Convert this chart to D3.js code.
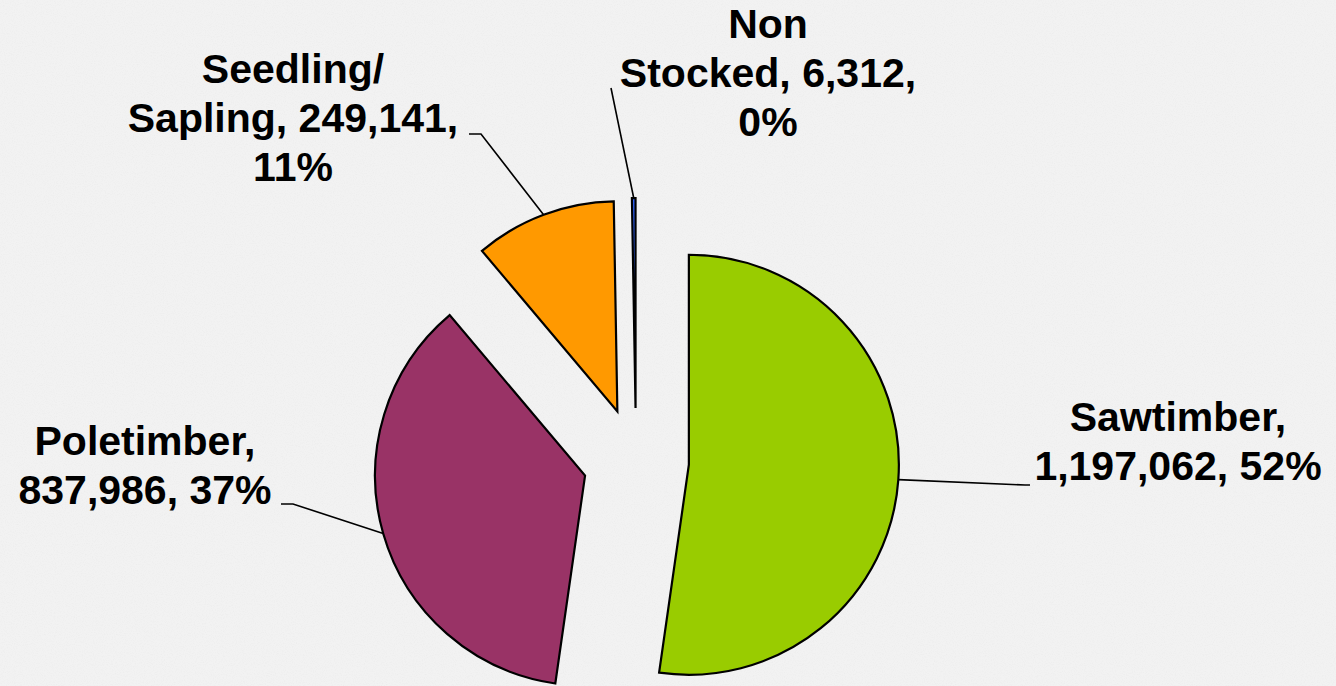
<!DOCTYPE html>
<html>
<head>
<meta charset="utf-8">
<script src="https://cdn.jsdelivr.net/npm/d3@7"></script>
<style>
  html, body { margin: 0; padding: 0; background: #f2f2f2; }
  svg { display: block; }
</style>
</head>
<body>
<div id="chart-container"></div>
<script>
// stand size classes, acres
var categories = ["Sawtimber", "Poletimber", "Seedling/Sapling", "Non Stocked"];
var acres = [1197062, 837986, 249141, 6312];
var colors = ["#99CC00", "#993366", "#FF9900", "#3366FF"];

// label text, {v} = value, {p} = percent (line breaks as in the original)
var labelTemplates = [
  ["Sawtimber,", "{v}, {p}"],
  ["Poletimber,", "{v}, {p}"],
  ["Seedling/", "Sapling, {v},", "{p}"],
  ["Non", "Stocked, {v},", "{p}"]
];

var chartSize = { width: 1336, height: 686 };
var pieCenter = { x: 636, y: 461 };
var radius = 210;
var explode = 53;
var fontSize = 41;
var lineHeight = 49;

// label placement: centre x, first baseline, and where the leader line leaves the label
var labelLayout = [
  { x: 1178, y: 431, elbow: [[1030, 485], [1025, 485]] },
  { x: 145, y: 455, elbow: [[281, 504], [293, 504]] },
  { x: 293, y: 83, elbow: [[469, 134], [481, 134]] },
  { x: 768, y: 38, elbow: [[611, 88]] }
];

var data = categories.map(function (c, i) {
  return { name: c, value: acres[i], color: colors[i], template: labelTemplates[i], layout: labelLayout[i] };
});
var total = d3.sum(acres);
var fmtValue = d3.format(",");
var fmtPct = d3.format(".0%");

var svg = d3.select("#chart-container")
  .append("svg")
  .attr("width", chartSize.width)
  .attr("height", chartSize.height);

// faint paper texture
var defs = svg.append("defs");
var noise = defs.append("filter").attr("id", "noise").attr("x", 0).attr("y", 0).attr("width", "100%").attr("height", "100%");
noise.append("feTurbulence").attr("type", "fractalNoise").attr("baseFrequency", 0.9).attr("numOctaves", 2).attr("seed", 3);
noise.append("feColorMatrix").attr("values", "0 0 0 0 0.5  0 0 0 0 0.5  0 0 0 0 0.5  0 0 0 -1.6 0.9");

svg.append("rect").attr("width", chartSize.width).attr("height", chartSize.height).attr("fill", "#f2f2f2");
svg.append("rect").attr("width", chartSize.width).attr("height", chartSize.height)
  .attr("filter", "url(#noise)").attr("opacity", 0.12);

var pie = d3.pie()
  .value(function (d) { return d.value; })
  .sort(null)
  .startAngle(0)
  .endAngle(2 * Math.PI);

var arc = d3.arc()
  .innerRadius(0)
  .outerRadius(radius);

var arcs = pie(data);

arcs.forEach(function (d) {
  var mid = (d.startAngle + d.endAngle) / 2;
  d.mid = mid;
  d.dx = explode * Math.sin(mid);
  d.dy = -explode * Math.cos(mid);
});

var g = svg.append("g")
  .attr("transform", "translate(" + pieCenter.x + "," + pieCenter.y + ")");

g.selectAll("path.slice")
  .data(arcs)
  .enter()
  .append("path")
  .attr("class", "slice")
  .attr("transform", function (d) { return "translate(" + d.dx + "," + d.dy + ")"; })
  .attr("d", arc)
  .attr("fill", function (d) { return d.data.color; })
  .attr("stroke", "#000")
  .attr("stroke-width", 2.2)
  .attr("stroke-linejoin", "miter");

// leader lines, from the label to the outer arc midpoint
var leaders = svg.append("g");
arcs.forEach(function (d) {
  var px = pieCenter.x + d.dx + radius * Math.sin(d.mid);
  var py = pieCenter.y + d.dy - radius * Math.cos(d.mid);
  var pts = d.data.layout.elbow.slice();
  pts.push([px, py]);
  leaders.append("path")
    .attr("d", d3.line()(pts))
    .attr("fill", "none")
    .attr("stroke", "#000")
    .attr("stroke-width", 1.6);
});

var labels = svg.append("g")
  .attr("font-family", "'Liberation Sans', Arial, sans-serif")
  .attr("font-weight", "bold")
  .attr("font-size", fontSize)
  .attr("text-anchor", "middle")
  .attr("fill", "#000");

arcs.forEach(function (d) {
  var lines = d.data.template.map(function (t) {
    return t.replace("{v}", fmtValue(d.data.value)).replace("{p}", fmtPct(d.data.value / total));
  });
  var text = labels.append("text")
    .attr("x", d.data.layout.x)
    .attr("y", d.data.layout.y);
  lines.forEach(function (line, i) {
    text.append("tspan")
      .attr("x", d.data.layout.x)
      .attr("y", d.data.layout.y + i * lineHeight)
      .text(line);
  });
});
</script>
</body>
</html>
